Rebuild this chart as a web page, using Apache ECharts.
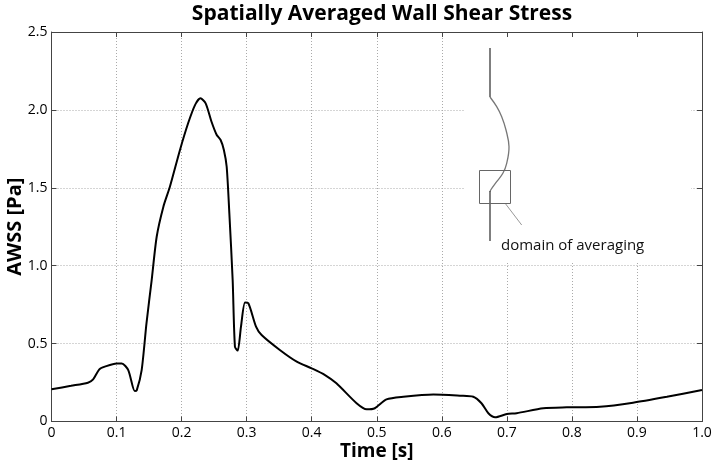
<!DOCTYPE html>
<html>
<head>
<meta charset="utf-8">
<script src="https://cdn.jsdelivr.net/npm/echarts@6/dist/echarts.min.js"></script>
<style>
html,body{margin:0;padding:0;background:#fff;}
#chart{width:721px;height:463px;}
</style>
</head>
<body>
<div id="chart"></div>
<script>
// Data
const timeS = [0, 0.03, 0.056, 0.064, 0.0735, 0.082, 0.1, 0.108, 0.118, 0.128, 0.131, 0.1386, 0.146, 0.154, 0.1617, 0.172, 0.182, 0.1975, 0.21, 0.2206, 0.2290, 0.237, 0.246, 0.254, 0.260, 0.265, 0.2693, 0.2734, 0.2785, 0.282, 0.2862, 0.2913, 0.2975, 0.3026, 0.3144, 0.323, 0.351, 0.377, 0.4, 0.4205, 0.438, 0.469, 0.4845, 0.497, 0.515, 0.541, 0.587, 0.628, 0.6484, 0.661, 0.6716, 0.682, 0.70, 0.715, 0.756, 0.792, 0.843, 0.894, 0.946, 1.0];
const awss  = [0.207, 0.229, 0.249, 0.27, 0.335, 0.352, 0.373, 0.373, 0.33, 0.195, 0.2, 0.33, 0.63, 0.908, 1.186, 1.379, 1.507, 1.743, 1.914, 2.031, 2.074, 2.042, 1.924, 1.839, 1.807, 1.743, 1.635, 1.336, 0.908, 0.48, 0.455, 0.609, 0.763, 0.759, 0.609, 0.555, 0.459, 0.384, 0.341, 0.298, 0.245, 0.117, 0.078, 0.085, 0.142, 0.159, 0.174, 0.166, 0.159, 0.117, 0.053, 0.027, 0.048, 0.053, 0.085, 0.091, 0.095, 0.121, 0.159, 0.202];
const xTicks = [0, 0.1, 0.2, 0.3, 0.4, 0.5, 0.6, 0.7, 0.8, 0.9, 1.0];
const yTicks = [0, 0.5, 1.0, 1.5, 2.0, 2.5];
const titleText = 'Spatially Averaged Wall Shear Stress';
const xName = 'Time [s]';
const yName = 'AWSS [Pa]';
const insetLabel = 'domain of averaging';

const chart = echarts.init(document.getElementById('chart'));
const fmt = v => (Math.abs(v) < 1e-9 ? '0' : v.toFixed(1));
const axisCol = '#444';
const labelFont = 'Open Sans';

const common = {
  type: 'value',
  axisLine: {show: true, onZero: false, lineStyle: {color: axisCol, width: 1}},
  axisTick: {show: true, inside: true, length: 5, lineStyle: {color: axisCol}},
};

chart.setOption({
  animation: false,
  backgroundColor: '#fff',
  title: {
    text: titleText, left: 377, top: -1, textAlign: 'center',
    textStyle: {fontFamily: 'Open Sans', fontWeight: 'bold', fontSize: 21, color: '#000'}
  },
  grid: {left: 51.5, right: 19, top: 32, bottom: 41.5, containLabel: false, outerBoundsMode: 'none'},
  xAxis: [
    Object.assign({}, common, {
      min: xTicks[0], max: xTicks[xTicks.length - 1], interval: 0.1,
      name: xName, nameLocation: 'middle', nameGap: 21, nameMoveOverlap: false,
      nameTextStyle: {fontFamily: 'Open Sans', fontWeight: 'bold', fontSize: 19, color: '#000', verticalAlign: 'top'},
      axisLabel: {formatter: fmt, fontFamily: labelFont, fontSize: 14, color: '#000', margin: 5},
      splitLine: {show: true, lineStyle: {type: [1, 2], color: '#aaa', width: 1}}
    }),
    Object.assign({}, common, {
      position: 'top', min: 0, max: 1, interval: 0.1,
      axisLabel: {show: false}, splitLine: {show: false}
    })
  ],
  yAxis: [
    Object.assign({}, common, {
      min: yTicks[0], max: yTicks[yTicks.length - 1], interval: 0.5,
      name: yName, nameLocation: 'middle', nameGap: 26, nameMoveOverlap: false,
      nameTextStyle: {fontFamily: 'Open Sans', fontWeight: 'bold', fontSize: 20, color: '#000'},
      axisLabel: {formatter: fmt, fontFamily: labelFont, fontSize: 14, color: '#000', margin: 4},
      splitLine: {show: true, lineStyle: {type: [1, 2], color: '#aaa', width: 1}}
    }),
    Object.assign({}, common, {
      position: 'right', min: 0, max: 2.5, interval: 0.5,
      axisLabel: {show: false}, splitLine: {show: false}
    })
  ],
  series: [{
    type: 'line',
    data: timeS.map((t, i) => [t, awss[i]]),
    showSymbol: false, symbol: 'none',
    smooth: 0.25,
    lineStyle: {color: '#000', width: 2},
    z: 5
  }],
  graphic: [
    {type: 'rect', shape: {x: 464, y: 38, width: 227, height: 224}, style: {fill: '#fff'}, z: 1, silent: true},
    {type: 'line', shape: {x1: 490, y1: 48, x2: 490, y2: 97}, style: {stroke: '#555', lineWidth: 1.5}, z: 2},
    {type: 'polyline', shape: {points: [[490, 97], [496.7, 106.7], [501.7, 116.7], [506, 130], [509, 146.7], [506.7, 163.3], [503, 173], [496.7, 181.7], [490.7, 190], [490, 192]], smooth: 0.4}, style: {stroke: '#777', lineWidth: 1.3, fill: null}, z: 2},
    {type: 'line', shape: {x1: 490, y1: 191, x2: 490, y2: 241}, style: {stroke: '#555', lineWidth: 1.5}, z: 2},
    {type: 'rect', shape: {x: 479.5, y: 170.5, width: 31, height: 33}, style: {stroke: '#666', lineWidth: 1, fill: null}, z: 2},
    {type: 'line', shape: {x1: 505.7, y1: 204, x2: 521.7, y2: 225}, style: {stroke: '#999', lineWidth: 1}, z: 2},
    {type: 'text', x: 501, y: 238, style: {text: insetLabel, fontFamily: 'Open Sans', fontSize: 15, fill: '#111', verticalAlign: 'alphabetic'}, z: 2}
  ]
});
</script>
</body>
</html>
